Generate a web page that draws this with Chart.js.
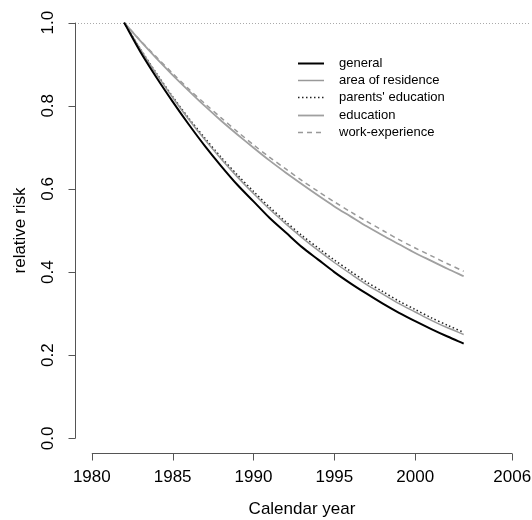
<!DOCTYPE html>
<html>
<head>
<meta charset="utf-8">
<script src="https://cdn.jsdelivr.net/npm/chart.js@4"></script>
<style>
  html, body { margin: 0; padding: 0; background: #fff; }
  #wrap { width: 532px; height: 520px; }
</style>
</head>
<body>
<div id="wrap"><canvas id="grafik" width="532" height="520"></canvas></div>
<script>
const years = [1982, 1983, 1984, 1985, 1986, 1987, 1988, 1989, 1990, 1991, 1992,
               1993, 1994, 1995, 1996, 1997, 1998, 1999, 2000, 2001, 2002, 2003]
const general = [1.00, 0.930, 0.868, 0.810, 0.755, 0.703, 0.655, 0.610, 0.570, 0.530, 0.495,
                 0.460, 0.430, 0.400, 0.373, 0.348, 0.324, 0.302, 0.282, 0.263, 0.245, 0.228]
const residence = [1.00, 0.936, 0.876, 0.820, 0.767, 0.718, 0.672, 0.629, 0.589, 0.551, 0.516,
                   0.483, 0.452, 0.423, 0.396, 0.370, 0.347, 0.324, 0.304, 0.284, 0.266, 0.250]
const parents = [1.00, 0.937, 0.878, 0.822, 0.770, 0.722, 0.676, 0.634, 0.594, 0.556, 0.521,
                 0.488, 0.458, 0.429, 0.402, 0.376, 0.353, 0.330, 0.310, 0.290, 0.272, 0.255]
const education = [1.00, 0.956, 0.914, 0.874, 0.836, 0.799, 0.764, 0.731, 0.699, 0.668, 0.639,
                   0.611, 0.584, 0.558, 0.534, 0.510, 0.488, 0.467, 0.446, 0.427, 0.408, 0.390]
const workExp = [1.00, 0.957, 0.917, 0.878, 0.840, 0.805, 0.771, 0.738, 0.706, 0.676, 0.648,
                 0.620, 0.594, 0.569, 0.545, 0.522, 0.500, 0.478, 0.458, 0.439, 0.420, 0.402]
const xTicks = [1980, 1985, 1990, 1995, 2000, 2006]
const yTicks = [0.0, 0.2, 0.4, 0.6, 0.8, 1.0]
const seriesNames = ['general', 'area of residence', "parents' education", 'education', 'work-experience']

const font = '"Liberation Sans", Arial, sans-serif'
const pts = (ys) => years.map((y, i) => ({ x: y, y: ys[i] }))

// axes, reference line, legend in R base-graphics style
const rAxes = {
    id: 'rAxes',
    beforeDatasetsDraw(chart) {
        const c = chart.ctx, x = chart.scales.x, y = chart.scales.y
        const yy = Math.round(y.getPixelForValue(1)) + 0.5
        c.save()
        c.strokeStyle = '#aaaaaa'
        c.lineWidth = 1
        c.setLineDash([1, 2])
        c.beginPath()
        c.moveTo(chart.chartArea.left, yy)
        c.lineTo(chart.chartArea.right, yy)
        c.stroke()
        c.restore()
    },
    afterDraw(chart) {
        const c = chart.ctx, x = chart.scales.x, y = chart.scales.y
        c.save()
        c.strokeStyle = '#555555'
        c.lineWidth = 1
        c.fillStyle = '#000'
        // x axis
        const ax = 453.5
        c.beginPath()
        c.moveTo(x.getPixelForValue(xTicks[0]), ax)
        c.lineTo(x.getPixelForValue(xTicks[xTicks.length - 1]), ax)
        xTicks.forEach(t => {
            const px = Math.round(x.getPixelForValue(t)) + 0.5
            c.moveTo(px, ax)
            c.lineTo(px, ax + 7)
        })
        c.stroke()
        c.font = '17px ' + font
        c.textAlign = 'center'
        c.textBaseline = 'middle'
        xTicks.forEach(t => c.fillText(String(t), x.getPixelForValue(t), 477))
        c.fillText('Calendar year', (x.getPixelForValue(1980) + x.getPixelForValue(2006)) / 2, 509)
        // y axis
        const ay = 75.5
        c.beginPath()
        c.moveTo(ay, y.getPixelForValue(yTicks[0]))
        c.lineTo(ay, y.getPixelForValue(yTicks[yTicks.length - 1]))
        yTicks.forEach(t => {
            const py = Math.round(y.getPixelForValue(t)) + 0.5
            c.moveTo(ay, py)
            c.lineTo(ay - 7, py)
        })
        c.stroke()
        yTicks.forEach(t => {
            c.save()
            c.translate(48, y.getPixelForValue(t))
            c.rotate(-Math.PI / 2)
            c.fillText(t.toFixed(1), 0, 0)
            c.restore()
        })
        c.save()
        c.translate(20, (y.getPixelForValue(0) + y.getPixelForValue(1)) / 2)
        c.rotate(-Math.PI / 2)
        c.fillText('relative risk', 0, 0)
        c.restore()
        // legend
        c.font = '13px ' + font
        c.textAlign = 'left'
        chart.data.datasets.forEach((ds, i) => {
            const ly = Math.round(62.5 + i * 17.4) + 0.5
            c.strokeStyle = ds.borderColor
            c.lineWidth = ds.borderWidth
            c.setLineDash(ds.borderDash || [])
            c.beginPath()
            c.moveTo(298, ly)
            c.lineTo(324, ly)
            c.stroke()
            c.fillText(ds.label, 339, ly)
        })
        c.restore()
    }
}

const ctx = document.getElementById('grafik')
const myChart = new Chart(ctx, {
    type: 'line',
    data: {
        datasets: [
            { label: seriesNames[0], data: pts(general), borderColor: '#000000', borderWidth: 2 },
            { label: seriesNames[1], data: pts(residence), borderColor: '#999999', borderWidth: 1.5 },
            { label: seriesNames[2], data: pts(parents), borderColor: '#222222', borderWidth: 1.5, borderDash: [1.5, 2.5] },
            { label: seriesNames[3], data: pts(education), borderColor: '#a0a0a0', borderWidth: 1.8 },
            { label: seriesNames[4], data: pts(workExp), borderColor: '#999999', borderWidth: 1.5, borderDash: [5, 4] }
        ]
    },
    options: {
        responsive: false,
        animation: false,
        layout: { padding: { left: 75, right: 3, top: 6, bottom: 65 } },
        elements: { point: { radius: 0 }, line: { tension: 0.3, fill: false } },
        plugins: { legend: { display: false }, tooltip: { enabled: false } },
        scales: {
            x: { type: 'linear', min: 1978.96, max: 2007.04, display: false },
            y: { type: 'linear', min: -0.04, max: 1.04, display: false }
        }
    },
    plugins: [rAxes]
})
</script>
</body>
</html>
